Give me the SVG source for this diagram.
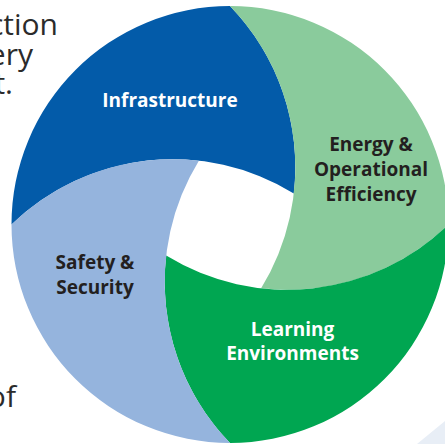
<svg xmlns="http://www.w3.org/2000/svg" width="445" height="444" viewBox="0 0 445 444">
<style>
.bg{font-family:"Open Sans","Noto Sans",sans-serif;font-size:30px;fill:#2b2b2b;text-anchor:end}
.lbl{font-family:"Open Sans","Noto Sans",sans-serif;font-weight:700;font-size:19px;text-anchor:middle}
.w{fill:#ffffff}
.d{fill:#231f20}
</style>
<rect width="445" height="444" fill="#ffffff"/>
<g id="page-text">
<text class="bg" x="58" y="35">ction</text>
<text class="bg" x="33" y="65">ery</text>
<text class="bg" x="13" y="94.3">t.</text>
<text class="bg" x="16" y="406.7">of</text>
<polygon points="417,444 445,421 445,444" fill="#e8eef6"/>
</g>
<g id="connectors"></g>
<g id="infrastructure">
<path d="M11.5,224.5 A218.5,218.5 0 0 1 230,6 A231.66,231.66 0 0 1 293.81,193.38 A231.66,231.66 0 0 0 11.5,224.5 Z" fill="#035ba9"/>
<text class="lbl w" x="170" y="106.5">Infrastructure</text>
</g>
<g id="energy">
<path d="M230,6 A218.5,218.5 0 0 1 448.5,224.5 A231.66,231.66 0 0 1 261.12,288.31 A231.66,231.66 0 0 0 230,6 Z" fill="#8acb9c"/>
<text class="lbl d" x="371" y="150.7">Energy &amp;</text>
<text class="lbl d" x="371" y="175.7">Operational</text>
<text class="lbl d" x="371" y="200.7">Efficiency</text>
</g>
<g id="learning">
<path d="M448.5,224.5 A218.5,218.5 0 0 1 230,443 A231.66,231.66 0 0 1 166.19,255.62 A231.66,231.66 0 0 0 448.5,224.5 Z" fill="#00a651"/>
<text class="lbl w" x="292.5" y="335.7">Learning</text>
<text class="lbl w" x="292.5" y="360">Environments</text>
</g>
<g id="safety">
<path d="M230,443 A218.5,218.5 0 0 1 11.5,224.5 A231.66,231.66 0 0 1 198.88,160.69 A231.66,231.66 0 0 0 230,443 Z" fill="#95b4dd"/>
<text class="lbl d" x="95" y="269">Safety &amp;</text>
<text class="lbl d" x="95" y="294.3">Security</text>
</g>
</svg>
